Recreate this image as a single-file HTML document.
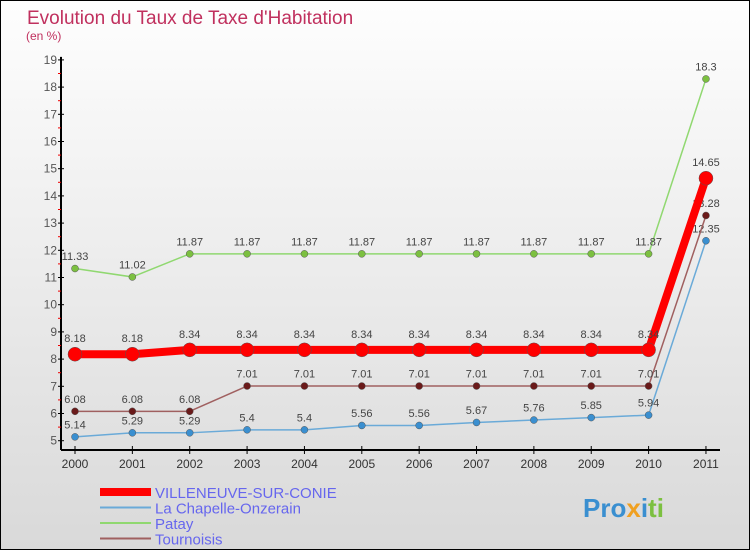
<!DOCTYPE html>
<html><head><meta charset="utf-8"><style>
body{margin:0;width:750px;height:550px;overflow:hidden;font-family:"Liberation Sans",sans-serif}
#c{position:absolute;left:0;top:0;width:748px;height:548px;border:1px solid #000;background:linear-gradient(#fefefe,#d9d9d9)}
</style></head><body>
<div id="c">
<svg id="s" width="750" height="550" style="position:absolute;left:-1px;top:-1px">
<text x="27" y="24" font-size="19" fill="#c0305e">Evolution du Taux de Taxe d'Habitation</text>
<text x="26" y="40" font-size="12" fill="#c0305e">(en %)</text>
<g id="axes"></g><g id="series"></g><g id="legend"></g>
<text x="583" y="517" font-size="26" font-weight="bold" fill="#3a8fd0">Pro<tspan fill="#f0a020">x</tspan><tspan fill="#3a8fd0">i</tspan><tspan fill="#7cc040">ti</tspan></text>
</svg></div>
<script>
const years=[2000,2001,2002,2003,2004,2005,2006,2007,2008,2009,2010,2011];
const yTicks=[5,6,7,8,9,10,11,12,13,14,15,16,17,18,19];
const villeneuve=[8.18,8.18,8.34,8.34,8.34,8.34,8.34,8.34,8.34,8.34,8.34,14.65];
const chapelle=[5.14,5.29,5.29,5.4,5.4,5.56,5.56,5.67,5.76,5.85,5.94,12.35];
const patay=[11.33,11.02,11.87,11.87,11.87,11.87,11.87,11.87,11.87,11.87,11.87,18.3];
const tournoisis=[6.08,6.08,6.08,7.01,7.01,7.01,7.01,7.01,7.01,7.01,7.01,13.28];
const NS="http://www.w3.org/2000/svg";
const X=i=>75+i*57.36, Y=v=>440.7-(v-5)*27.2;
function mk(p,t,a){const e=document.createElementNS(NS,t);for(const k in a)e.setAttribute(k,a[k]);p.appendChild(e);return e;}
const ax=document.getElementById('axes');
let e=mk(ax,'line',{x1:61,y1:Y(19)-3,x2:61,y2:450,stroke:'#000','stroke-width':2});

e=mk(ax,'line',{x1:61,y1:450,x2:720,y2:450,stroke:'#000','stroke-width':2});

yTicks.forEach(v=>{mk(ax,'line',{x1:58,y1:Y(v),x2:64,y2:Y(v),stroke:'#000'});
 if(v<19)mk(ax,'line',{x1:58,y1:Y(v+0.5),x2:61,y2:Y(v+0.5),stroke:'#e00'});
 const t=mk(ax,'text',{x:57,y:Y(v)+4,'font-size':12,fill:'#555','text-anchor':'end'});t.textContent=v;
 });
years.forEach((y,i)=>{mk(ax,'line',{x1:X(i),y1:446,x2:X(i),y2:454,stroke:'#000'});
 const t=mk(ax,'text',{x:X(i),y:468,'font-size':12,fill:'#333','text-anchor':'middle'});t.textContent=y;
 });
const sg=document.getElementById('series');
function draw(name,data,col,dot,w,r,lab){
 const g=mk(sg,'g',{});
 mk(g,'polyline',{points:data.map((v,i)=>X(i)+','+Y(v)).join(' '),fill:'none',stroke:col,'stroke-width':w,'stroke-linejoin':'round'});
 data.forEach((v,i)=>{const c=mk(g,'circle',{cx:X(i),cy:Y(v),r:r,fill:dot,stroke:'#555','stroke-width':0.5});
  
  const t=mk(g,'text',{x:X(i),y:Y(v)-r-5,'font-size':11,fill:'#444','text-anchor':'middle'});t.textContent=v;
  });
}
draw('patay',patay,'#90d870','#7cc040',1.5,3.5);
draw('chapelle',chapelle,'#6aaad8','#3a8fd0',1.5,3.5);
draw('tournoisis',tournoisis,'#a06060','#6a1a1a',1.5,3.5);
draw('villeneuve',villeneuve,'#f00','#f00',8,7);
const lg=document.getElementById('legend');
[['VILLENEUVE-SUR-CONIE','#f00',8],['La Chapelle-Onzerain','#6aaad8',2],['Patay','#90d870',2],['Tournoisis','#a06060',2]].forEach((d,i)=>{
 const y=492+i*15.5;const g=mk(lg,'g',{});
 
 mk(g,'line',{x1:100,y1:y,x2:151,y2:y,stroke:d[1],'stroke-width':d[2]});
 const t=mk(g,'text',{x:155,y:y+6,'font-size':15,fill:'#6666ee'});t.textContent=d[0];});
</script></body></html>
